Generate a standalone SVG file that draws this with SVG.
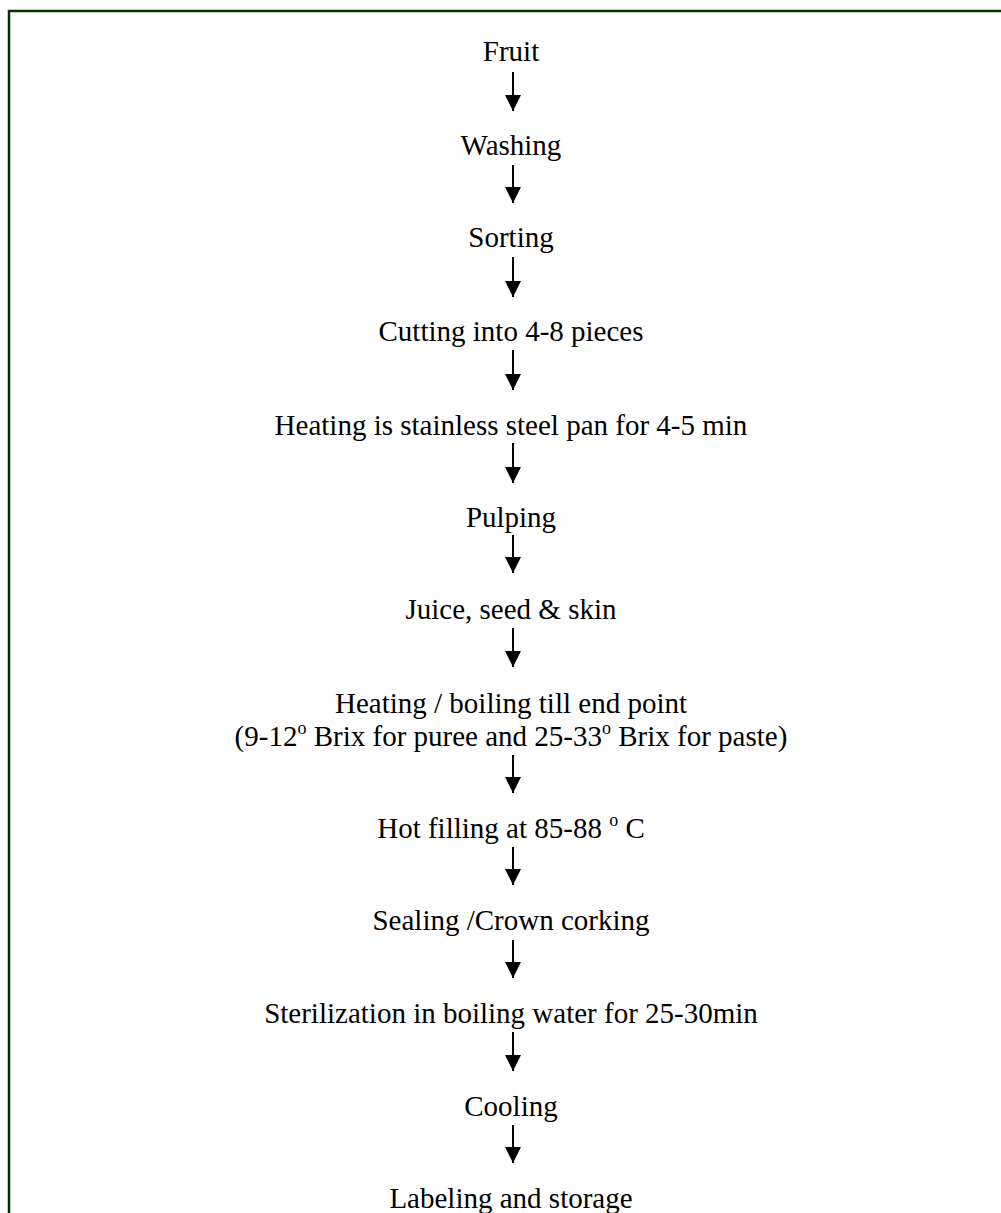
<svg xmlns="http://www.w3.org/2000/svg" width="1001" height="1213" viewBox="0 0 1001 1213">
  <style>
    .frame { fill: none; stroke: #003300; stroke-width: 2.5; }
    .step { font-family: "Liberation Serif", "Times New Roman", serif; font-size: 29px; fill: #000; text-anchor: middle; }
    .sup { font-size: 18px; }
    .flow line { stroke: #000; stroke-width: 2; }
  </style>
  <defs>
    <!-- filled triangular arrowhead, tip at the end of the line -->
    <marker id="head" markerWidth="16" markerHeight="16" viewBox="0 0 16 16" refX="16" refY="8" markerUnits="userSpaceOnUse" orient="auto">
      <path d="M0,0 L16,8 L0,16 Z" fill="#000"/>
    </marker>
  </defs>

  <rect width="1001" height="1213" fill="#fff"/>
  <!-- open frame: top and left edges only -->
  <path class="frame" d="M9,1213 V11 H1001"/>

  <g id="n1"><text class="step" x="511" y="61">Fruit</text></g>
  <g id="n2"><text class="step" x="511" y="155">Washing</text></g>
  <g id="n3"><text class="step" x="511" y="247">Sorting</text></g>
  <g id="n4"><text class="step" x="511" y="341">Cutting into 4-8 pieces</text></g>
  <g id="n5"><text class="step" x="511" y="435">Heating is stainless steel pan for 4-5 min</text></g>
  <g id="n6"><text class="step" x="511" y="527">Pulping</text></g>
  <g id="n7"><text class="step" x="511" y="619">Juice, seed &amp; skin</text></g>
  <g id="n8">
    <text class="step" x="511" y="713">Heating / boiling till end point</text>
    <text class="step" x="511" y="746">(9-12<tspan class="sup" dy="-12">o</tspan><tspan dy="12"> Brix for puree and 25-33</tspan><tspan class="sup" dy="-12">o</tspan><tspan dy="12"> Brix for paste)</tspan></text>
  </g>
  <g id="n9"><text class="step" x="511" y="838">Hot filling at 85-88 <tspan class="sup" dy="-12">o</tspan><tspan dy="12"> C</tspan></text></g>
  <g id="n10"><text class="step" x="511" y="930">Sealing /Crown corking</text></g>
  <g id="n11"><text class="step" x="511" y="1023">Sterilization in boiling water for 25-30min</text></g>
  <g id="n12"><text class="step" x="511" y="1116">Cooling</text></g>
  <g id="n13"><text class="step" x="511" y="1208">Labeling and storage</text></g>

  <g id="connectors" class="flow">
    <line x1="513" y1="72" x2="513" y2="111" marker-end="url(#head)"/>
    <line x1="513" y1="165" x2="513" y2="203" marker-end="url(#head)"/>
    <line x1="513" y1="257" x2="513" y2="297" marker-end="url(#head)"/>
    <line x1="513" y1="350" x2="513" y2="390" marker-end="url(#head)"/>
    <line x1="513" y1="443" x2="513" y2="483" marker-end="url(#head)"/>
    <line x1="513" y1="535" x2="513" y2="573" marker-end="url(#head)"/>
    <line x1="513" y1="628" x2="513" y2="667" marker-end="url(#head)"/>
    <line x1="513" y1="755" x2="513" y2="793" marker-end="url(#head)"/>
    <line x1="513" y1="847" x2="513" y2="885" marker-end="url(#head)"/>
    <line x1="513" y1="940" x2="513" y2="978" marker-end="url(#head)"/>
    <line x1="513" y1="1032" x2="513" y2="1071" marker-end="url(#head)"/>
    <line x1="513" y1="1125" x2="513" y2="1163" marker-end="url(#head)"/>
  </g>
</svg>
